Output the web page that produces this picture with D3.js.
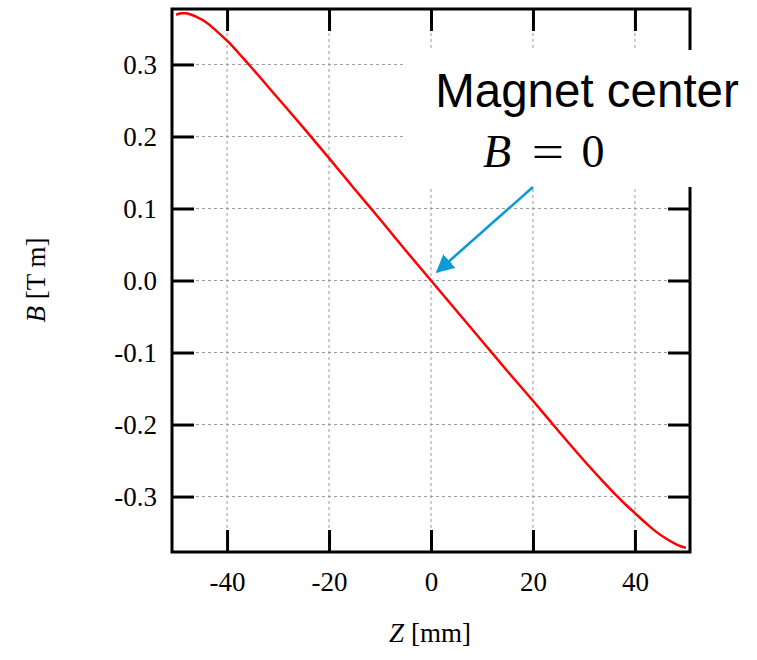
<!DOCTYPE html>
<html>
<head>
<meta charset="utf-8">
<script src="https://cdn.jsdelivr.net/npm/d3@7"></script>
<style>
  body { margin: 0; background: #fff; }
  svg { display: block; }
</style>
</head>
<body>
<svg id="chart"></svg>
<script>
const width = 757;
const height = 660;
const margin = { left: 172, right: 67, top: 9, bottom: 108 };

// field profile
const zVals = [-50, -49, -48, -46, -44, -42, -40, -38, -36, -34, -30, -25, -20, -15, -10, -5,
  0, 5, 10, 15, 20, 25, 30, 34, 36, 38, 40, 42, 44, 46, 48, 49, 50];
const bVals = [0.369, 0.371, 0.371, 0.366, 0.358, 0.346, 0.333, 0.318, 0.302, 0.286, 0.253, 0.212, 0.170, 0.127, 0.085, 0.042,
  0.000, -0.042, -0.084, -0.126, -0.167, -0.209, -0.250, -0.281, -0.296, -0.310, -0.323, -0.336, -0.348, -0.358, -0.366, -0.369, -0.371];

const xTicks = [-40, -20, 0, 20, 40];
const yTicks = [-0.3, -0.2, -0.1, 0.0, 0.1, 0.2, 0.3];

const data = zVals.map((z, i) => [z, bVals[i]]);

const svg = d3.select("#chart")
  .attr("width", width)
  .attr("height", height);

const x = d3.scaleLinear()
  .domain([-50.8, 50.8])
  .range([margin.left, width - margin.right]);

const y = d3.scaleLinear()
  .domain([-0.377, 0.377])
  .range([height - margin.bottom, margin.top]);

const serif = "'Liberation Serif', 'Times New Roman', serif";
// plain hyphen for negatives, like the original
const fmtX = d => String(d);
const fmtY = d => d.toFixed(1);

// grid
svg.append("g")
  .selectAll("line")
  .data(xTicks)
  .enter()
  .append("line")
  .attr("x1", d => x(d)).attr("x2", d => x(d))
  .attr("y1", margin.top).attr("y2", height - margin.bottom)
  .attr("stroke", "#999").attr("stroke-width", 1).attr("stroke-dasharray", "3,3");

svg.append("g")
  .selectAll("line")
  .data(yTicks)
  .enter()
  .append("line")
  .attr("x1", margin.left).attr("x2", width - margin.right)
  .attr("y1", d => y(d)).attr("y2", d => y(d))
  .attr("stroke", "#999").attr("stroke-width", 1).attr("stroke-dasharray", "3,3");

// axes with inward ticks
const tickLen = 22;
const styleAxis = g => {
  g.select(".domain").remove();
  g.selectAll(".tick line").attr("stroke", "#000").attr("stroke-width", 3);
  g.selectAll(".tick text")
    .attr("font-family", serif)
    .attr("font-size", 27)
    .attr("fill", "#000");
};

svg.append("g")
  .attr("transform", `translate(0,${height - margin.bottom})`)
  .call(d3.axisBottom(x).tickValues(xTicks).tickSize(-tickLen).tickPadding(20).tickFormat(fmtX))
  .call(styleAxis);

svg.append("g")
  .attr("transform", `translate(0,${margin.top})`)
  .call(d3.axisTop(x).tickValues(xTicks).tickSize(-tickLen).tickFormat(""))
  .call(styleAxis);

svg.append("g")
  .attr("transform", `translate(${margin.left},0)`)
  .call(d3.axisLeft(y).tickValues(yTicks).tickSize(-tickLen).tickPadding(15).tickFormat(fmtY))
  .call(styleAxis);

svg.append("g")
  .attr("transform", `translate(${width - margin.right},0)`)
  .call(d3.axisRight(y).tickValues(yTicks).tickSize(-tickLen).tickFormat(""))
  .call(styleAxis);

// curve
svg.append("path")
  .datum(data)
  .attr("fill", "none")
  .attr("stroke", "#ff0000")
  .attr("stroke-width", 2.5)
  .attr("d", d3.line().x(d => x(d[0])).y(d => y(d[1])).curve(d3.curveCatmullRom.alpha(0.5)));

// frame
svg.append("rect")
  .attr("x", margin.left).attr("y", margin.top)
  .attr("width", width - margin.left - margin.right)
  .attr("height", height - margin.top - margin.bottom)
  .attr("fill", "none").attr("stroke", "#000").attr("stroke-width", 3);

// axis titles
const xt = svg.append("text")
  .attr("x", 430).attr("y", 642)
  .attr("text-anchor", "middle")
  .attr("font-family", serif).attr("font-size", 27);
xt.append("tspan").attr("font-style", "italic").text("Z");
xt.append("tspan").text(" [mm]");

const yt = svg.append("text")
  .attr("transform", "translate(45,280) rotate(-90)")
  .attr("text-anchor", "middle")
  .attr("font-family", serif).attr("font-size", 27);
yt.append("tspan").attr("font-style", "italic").text("B");
yt.append("tspan").text(" [T m]");

// annotation
svg.append("rect")
  .attr("x", 403).attr("y", 50).attr("width", width - 403).attr("height", 137)
  .attr("fill", "#fff");

svg.append("text")
  .attr("x", 587).attr("y", 107)
  .attr("text-anchor", "middle")
  .attr("font-family", "'Liberation Sans', Arial, sans-serif")
  .attr("font-size", 47.5)
  .text("Magnet center");

const eq = svg.append("g")
  .attr("font-family", serif).attr("font-size", 46);
eq.append("text").attr("x", 483).attr("y", 167).attr("font-style", "italic").text("B");
eq.append("text").attr("x", 548).attr("y", 167).attr("text-anchor", "middle").attr("transform", "translate(548,0) scale(1.25,1) translate(-548,0)").text("=");
eq.append("text").attr("x", 593).attr("y", 167).attr("text-anchor", "middle").text("0");

svg.append("defs").append("marker")
  .attr("id", "arrow")
  .attr("viewBox", "0 0 10 10")
  .attr("refX", 9).attr("refY", 5)
  .attr("markerWidth", 7).attr("markerHeight", 7)
  .attr("markerUnits", "strokeWidth")
  .attr("orient", "auto")
  .append("path")
  .attr("d", "M0,0 L10,5 L0,10 Z")
  .attr("fill", "#0d9ad6");

svg.append("line")
  .attr("x1", 533).attr("y1", 187)
  .attr("x2", x(1.2)).attr("y2", y(0.012))
  .attr("stroke", "#0d9ad6").attr("stroke-width", 2.6)
  .attr("marker-end", "url(#arrow)");
</script>
</body>
</html>
